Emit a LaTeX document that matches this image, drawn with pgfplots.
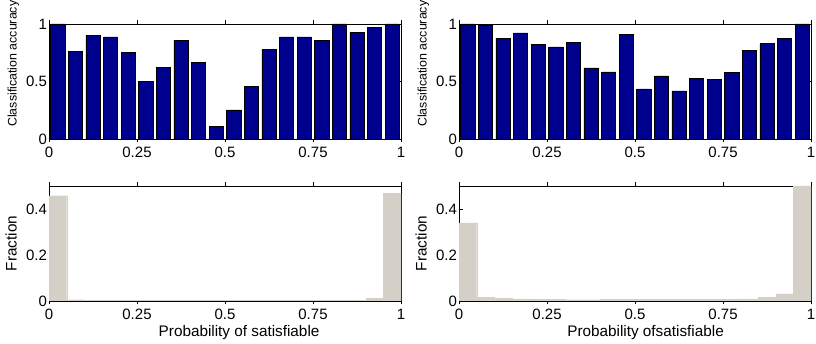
\documentclass[border=0pt]{standalone}
\usepackage{fontspec}
\setmainfont{Liberation Sans}
\usepackage{pgfplots}
\usepackage{pgfplotstable}
\pgfplotsset{compat=1.18}

\definecolor{barNavy}{RGB}{0,0,143}
\definecolor{barGray}{RGB}{212,208,200}

% bin centre, value (20 bins of width 0.05)
\pgfplotstableread{
x      acc
0.025  1.000
0.075  0.762
0.125  0.901
0.175  0.887
0.225  0.750
0.275  0.503
0.325  0.625
0.375  0.858
0.425  0.669
0.475  0.110
0.525  0.253
0.575  0.456
0.625  0.779
0.675  0.887
0.725  0.887
0.775  0.858
0.825  1.000
0.875  0.924
0.925  0.968
0.975  1.000
}\accLeft

\pgfplotstableread{
x      acc
0.025  1.000
0.075  0.985
0.125  0.878
0.175  0.922
0.225  0.823
0.275  0.800
0.325  0.840
0.375  0.619
0.425  0.584
0.475  0.907
0.525  0.436
0.575  0.549
0.625  0.419
0.675  0.526
0.725  0.520
0.775  0.576
0.825  0.770
0.875  0.828
0.925  0.878
0.975  1.000
}\accRight

\pgfplotstableread{
x      frac
0.025  0.458
0.075  0.006
0.125  0.004
0.175  0.003
0.225  0.003
0.275  0.003
0.325  0.003
0.375  0.003
0.425  0.003
0.475  0.003
0.525  0.003
0.575  0.003
0.625  0.003
0.675  0.003
0.725  0.003
0.775  0.003
0.825  0.003
0.875  0.003
0.925  0.011
0.975  0.468
}\fracLeft

\pgfplotstableread{
x      frac
0.025  0.340
0.075  0.016
0.125  0.013
0.175  0.009
0.225  0.008
0.275  0.007
0.325  0.006
0.375  0.006
0.425  0.007
0.475  0.007
0.525  0.007
0.575  0.008
0.625  0.008
0.675  0.007
0.725  0.007
0.775  0.008
0.825  0.009
0.875  0.016
0.925  0.031
0.975  0.500
}\fracRight

\newcommand{\panelfont}{\fontsize{15}{17}\selectfont}
\newcommand{\labelfont}{\fontsize{15.3}{17}\selectfont}

\pgfplotsset{
  panel/.style={
    scale only axis, width=352pt, height=115pt,
    xmin=0, xmax=1,
    xtick={0,0.25,0.5,0.75,1},
    tick align=inside, major tick length=3.5pt,
    axis line style={line width=0.9pt},
    every tick/.style={black, line width=0.6pt},
    tick label style={font=\panelfont},
    /pgf/number format/assume math mode=true,
    yticklabel style={xshift=1.5pt},
    xticklabel style={yshift=-1pt},
    ybar,
  },
  accuracy/.style={
    panel, ymin=0, ymax=1, ytick={0,0.5,1}, bar width=0.04,
    ylabel={Classification accuracy},
    ylabel style={font=\fontsize{12.4}{14}\selectfont,
      at={(axis description cs:-0.0923,0.655)}, anchor=base},
  },
  fraction/.style={
    panel, ymin=0, ymax=0.5, ytick={0,0.2,0.4}, bar width=0.05,
    ylabel={Fraction},
    ylabel style={font=\labelfont,
      at={(axis description cs:-0.0923,0.5)}, anchor=base},
    xlabel style={font=\labelfont},
  },
  accbars/.style={fill=barNavy, draw=black, line width=0.6pt},
  fracbars/.style={fill=barGray, draw=barGray, line width=0.2pt},
}

\begin{document}
\begin{tikzpicture}[x=1pt,y=1pt]
\useasboundingbox (0,0) rectangle (816,344);

\begin{axis}[accuracy, at={(49pt,205pt)}, anchor=south west]
  \addplot[accbars] table[x=x, y=acc] {\accLeft};
\end{axis}

\begin{axis}[accuracy, at={(459pt,205pt)}, anchor=south west]
  \addplot[accbars] table[x=x, y=acc] {\accRight};
\end{axis}

\begin{axis}[fraction, at={(49pt,43pt)}, anchor=south west,
    xlabel={Probability of satisfiable},
    xlabel style={at={(axis description cs:0.54,-0.305)}, anchor=base}]
  \addplot[fracbars] table[x=x, y=frac] {\fracLeft};
\end{axis}

\begin{axis}[fraction, at={(459pt,43pt)}, anchor=south west,
    xlabel={Probability ofsatisfiable},
    xlabel style={at={(axis description cs:0.53,-0.305)}, anchor=base}]
  \addplot[fracbars] table[x=x, y=frac] {\fracRight};
\end{axis}
\end{tikzpicture}
\end{document}
